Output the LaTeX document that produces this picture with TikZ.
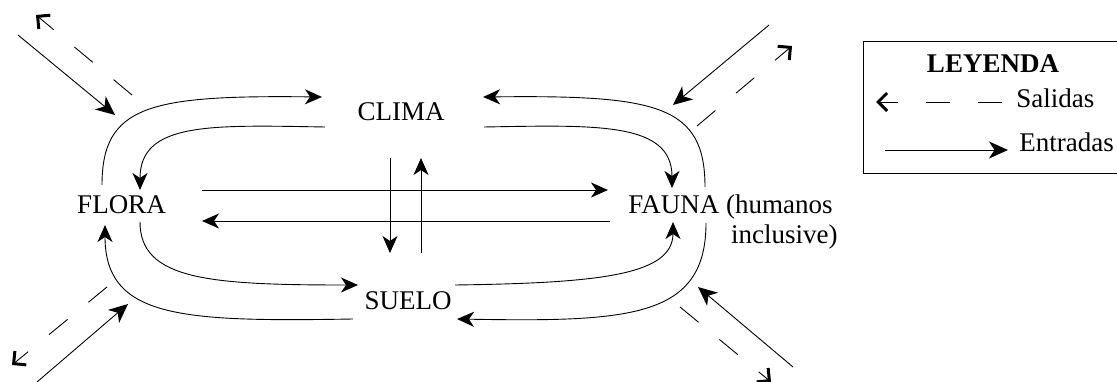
\documentclass[tikz,border=0pt]{standalone}
\usepackage{fontspec}
\setmainfont{Liberation Serif}
\usetikzlibrary{arrows.meta}
\begin{document}
\begin{tikzpicture}[x=1pt,y=-1pt,line width=0.9pt,
  lbl/.style={font=\fontsize{27}{31}\selectfont, inner sep=0pt},
  flow/.style={-{Stealth[length=17pt,width=15pt,inset=5pt,line width=1.5pt,fill=black]}},
  entra/.style={-{Stealth[length=19pt,width=17pt,inset=5.5pt,line width=1.8pt,fill=black]}},
  sale/.style={dash pattern=on 24pt off 27pt,-{Straight Barb[length=9pt,width=18pt,line width=3pt]}}]
\useasboundingbox (0,0) rectangle (1117,382);

% labels
\node[lbl, anchor=base] (clima) at (401,121) {CLIMA};
\node[lbl, anchor=base] (flora) at (121.5,214) {FLORA};
\node[lbl, anchor=base west] (fauna) at (628,214) {FAUNA (humanos};
\node[lbl, anchor=base east] (incl) at (838,244) {inclusive)};
\node[lbl, anchor=base] (suelo) at (408,309) {SUELO};

% curve end points
\coordinate (fcA) at (102,185);  \coordinate (cfA) at (322,97);
\coordinate (cfB) at (325,127);  \coordinate (fcB) at (140,190);
\coordinate (facC) at (705,187); \coordinate (cfaC) at (483,97);
\coordinate (cfaD) at (484,127); \coordinate (facD) at (672,188);
\coordinate (fsE) at (140,222);  \coordinate (sfE) at (358,285);
\coordinate (sfF) at (353,319);  \coordinate (fsF) at (105,225);
\coordinate (sfaG) at (455,285); \coordinate (fasG) at (673,222);
\coordinate (fasH) at (706,223); \coordinate (sfaH) at (457,319);

% cycle curves
\draw[flow] (fcA) .. controls (102,105) and (150,95) .. (cfA);
\draw[flow] (cfB) .. controls (210,125) and (140,122) .. (fcB);
\draw[flow] (facC) .. controls (705,105) and (657,95) .. (cfaC);
\draw[flow] (cfaD) .. controls (597,125) and (672,122) .. (facD);
\draw[flow] (fsE) .. controls (140,280) and (210,285) .. (sfE);
\draw[flow] (sfF) .. controls (180,322) and (105,318) .. (fsF);
\draw[flow] (sfaG) .. controls (600,283) and (673,275) .. (fasG);
\draw[flow] (fasH) .. controls (706,318) and (630,322) .. (sfaH);

% straight internal arrows
\coordinate (h1s) at (202,190); \coordinate (h1e) at (608,190);
\coordinate (h2s) at (610,221); \coordinate (h2e) at (202,221);
\coordinate (v1s) at (390,158); \coordinate (v1e) at (390,253);
\coordinate (v2s) at (421,253); \coordinate (v2e) at (421,158);
\draw[flow] (h1s) -- (h1e);
\draw[flow] (h2s) -- (h2e);
\draw[flow] (v1s) -- (v1e);
\draw[flow] (v2s) -- (v2e);

% inputs (entradas)
\coordinate (in1s) at (18,35);   \coordinate (in1e) at (115,115);
\coordinate (in2s) at (769,25);  \coordinate (in2e) at (673,105);
\coordinate (in3s) at (37,382);  \coordinate (in3e) at (128,304);
\coordinate (in4s) at (793,367); \coordinate (in4e) at (698,287);
\draw[entra] (in1s) -- (in1e);
\draw[entra] (in2s) -- (in2e);
\draw[entra] (in3s) -- (in3e);
\draw[entra] (in4s) -- (in4e);

% outputs (salidas)
\coordinate (out1s) at (132,95);  \coordinate (out1e) at (36,15);
\coordinate (out2s) at (697,126); \coordinate (out2e) at (792,46);
\coordinate (out3s) at (107,287); \coordinate (out3e) at (12,365);
\coordinate (out4s) at (680,307); \coordinate (out4e) at (771,382);
\draw[sale] (out1s) -- (out1e);
\draw[sale] (out2s) -- (out2e);
\draw[sale] (out3s) -- (out3e);
\draw[sale] (out4s) -- (out4e);

% legend
\draw[line width=1pt] (863,42) rectangle (1118,174);
\node[lbl, anchor=base, font=\fontsize{27}{31}\selectfont\bfseries] (ley) at (993,73) {LEYENDA};
\node[lbl, anchor=base west] (sal) at (1016,108) {Salidas};
\node[lbl, anchor=base west] (ent) at (1019,152) {Entradas};
\coordinate (ls1) at (1002,102); \coordinate (ls2) at (876,102);
\coordinate (le1) at (885,150);  \coordinate (le2) at (1008,150);
\draw[sale, dash pattern=on 24pt off 28pt] (ls1) -- (ls2);
\draw[entra] (le1) -- (le2);
\end{tikzpicture}
\end{document}
